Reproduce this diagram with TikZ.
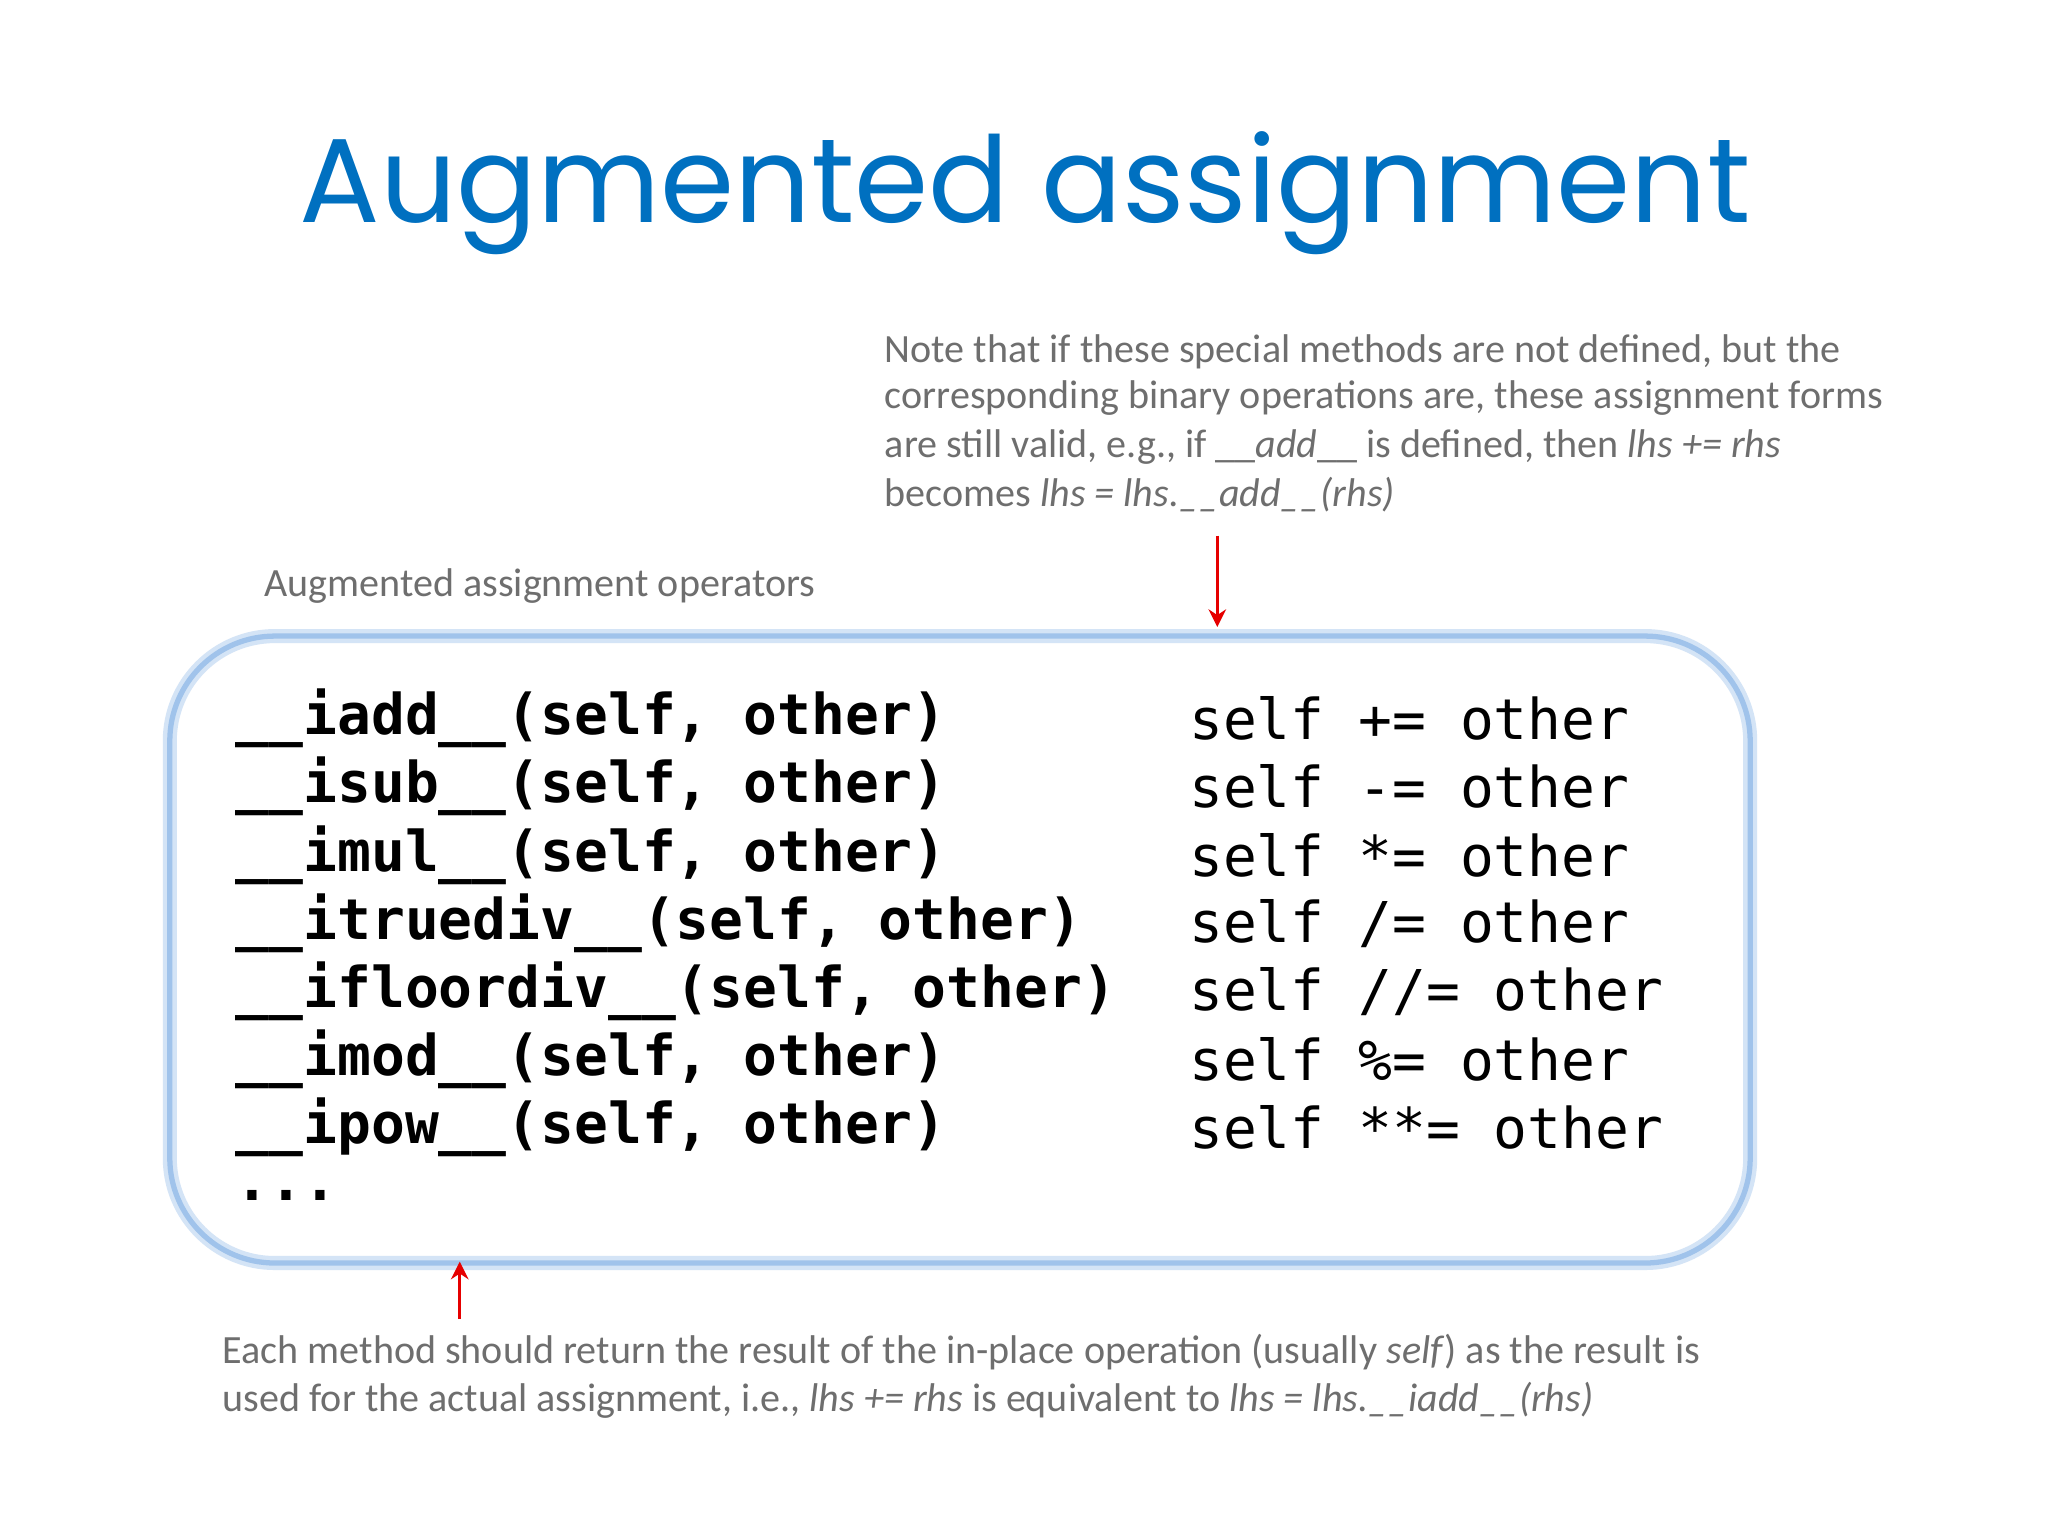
\documentclass[tikz,border=0pt]{standalone}
\usepackage{fontspec}
\usetikzlibrary{arrows.meta}
\setmainfont{Carlito}
\newfontfamily\titlefont{Poppins}
\newfontfamily\codefont{DejaVu Sans Mono}
\definecolor{titleblue}{RGB}{0,112,192}
\definecolor{notegray}{RGB}{110,110,110}
\definecolor{boxblue}{RGB}{160,195,235}
\definecolor{arrred}{RGB}{230,0,0}
\begin{document}
\begin{tikzpicture}[x=0.013061cm,y=-0.013061cm,
  note/.style={anchor=west,inner sep=0pt,text=notegray,font=\fontsize{11.4pt}{14pt}\selectfont},
  code/.style={anchor=west,inner sep=0pt,font=\codefont\fontsize{16pt}{19pt}\selectfont},
  codeb/.style={code,font=\codefont\bfseries\fontsize{16pt}{19pt}\selectfont},
  redarrow/.style={draw=arrred,line width=0.9pt,-{Stealth[length=5pt,width=5pt]}}]
\useasboundingbox[fill=white] (0,0) rectangle (1568,1176);
\node[inner sep=0pt,text=titleblue,font=\titlefont\fontsize{34pt}{40pt}\selectfont] (title) at (785,148) {Augmented assignment};
\node[note] (n1) at (677,269) {Note that if these special methods are not defined, but the};
\node[note] (n2) at (677,305) {corresponding binary operations are, these assignment forms};
\node[note] (n3) at (677,342) {are still valid, e.g., if \_\_\textit{add}\_\_ is defined, then \textit{lhs += rhs}};
\node[note] (n4) at (677,379) {becomes \textit{lhs = lhs.\_\_add\_\_(rhs)}};
\node[note] (lab) at (202,449) {Augmented assignment operators};
\draw[line width=4pt,draw=boxblue!45,rounded corners=1.05cm] (130,487) rectangle (1340,967);
\draw[line width=1.5pt,draw=boxblue,rounded corners=1.05cm] (130,487) rectangle (1340,967);
\coordinate (boxtop) at (932,480);
\coordinate (boxbot) at (352,966);
\coordinate (a1) at (932,410);
\coordinate (a2) at (352,1010);
\draw[redarrow] (a1) -- (boxtop);
\draw[redarrow] (a2) -- (boxbot);
\node[codeb] (c1) at (180,550) {\_\_iadd\_\_(self, other)};
\node[codeb] (c2) at (180,602) {\_\_isub\_\_(self, other)};
\node[codeb] (c3) at (180,655) {\_\_imul\_\_(self, other)};
\node[codeb] (c4) at (180,707) {\_\_itruediv\_\_(self, other)};
\node[codeb] (c5) at (180,759) {\_\_ifloordiv\_\_(self, other)};
\node[codeb] (c6) at (180,811) {\_\_imod\_\_(self, other)};
\node[codeb] (c7) at (180,863) {\_\_ipow\_\_(self, other)};
\node[codeb] (c8) at (180,915) {...};
\node[code] (d1) at (910,550) {self += other};
\node[code] (d2) at (910,602) {self -= other};
\node[code] (d3) at (910,655) {self *= other};
\node[code] (d4) at (910,707) {self /= other};
\node[code] (d5) at (910,759) {self //= other};
\node[code] (d6) at (910,811) {self \%= other};
\node[code] (d7) at (910,863) {self **= other};
\node[note] (b1) at (170,1035) {Each method should return the result of the in-place operation (usually \textit{self}) as the result is};
\node[note] (b2) at (170,1072) {used for the actual assignment, i.e., \textit{lhs += rhs} is equivalent to \textit{lhs = lhs.\_\_iadd\_\_(rhs)}};
\end{tikzpicture}
\end{document}
